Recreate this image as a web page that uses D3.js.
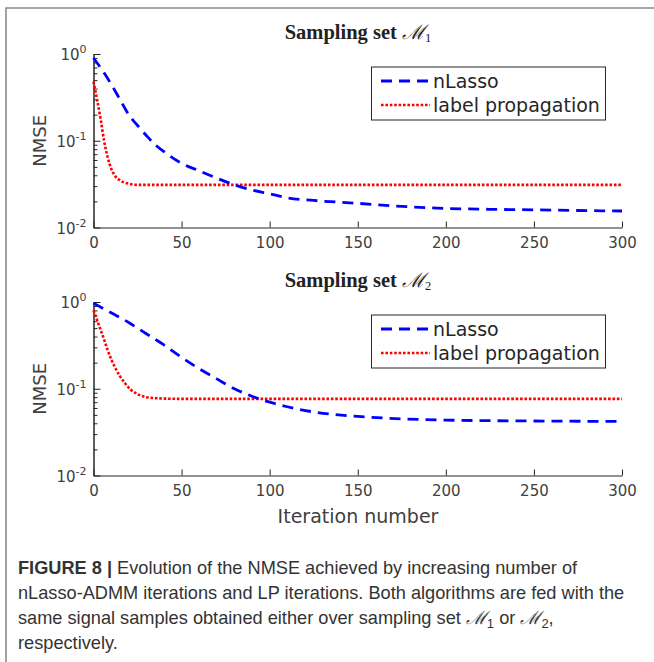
<!DOCTYPE html>
<html><head><meta charset="utf-8">
<script src="https://cdn.jsdelivr.net/npm/d3@7"></script>
<style>
html,body{margin:0;padding:0;background:#fff;}
svg{display:block;}
</style></head>
<body>
<script>
// ---- data ----
const xTicks = [0, 50, 100, 150, 200, 250, 300];
const yMajor = [0.01, 0.1, 1];
const yMajorLabels = ["-2", "-1", "0"];
const seriesNames = ["nLasso", "label propagation"];

const iterTop = [0, 5, 10, 15, 20, 25, 30, 35, 40, 50, 60, 70, 80, 90, 100, 110, 125, 150, 175, 200, 225, 250, 275, 300];
const nlassoTop = [0.9, 0.65, 0.45, 0.3, 0.2, 0.15, 0.115, 0.09, 0.075, 0.055, 0.045, 0.037, 0.031, 0.027, 0.0245, 0.022, 0.0205, 0.019, 0.0175, 0.0166, 0.0162, 0.016, 0.0157, 0.0155];
const iterLpTop = [0, 2, 4, 6, 8, 10, 12, 15, 20, 25, 30, 40, 100, 200, 300];
const lpTop = [0.48, 0.3, 0.18, 0.1, 0.065, 0.048, 0.04, 0.035, 0.032, 0.031, 0.031, 0.031, 0.031, 0.031, 0.031];

const iterBot = [0, 10, 20, 30, 40, 50, 60, 70, 80, 90, 100, 110, 125, 150, 175, 200, 250, 300];
const nlassoBot = [0.97, 0.75, 0.58, 0.43, 0.32, 0.23, 0.17, 0.13, 0.1, 0.082, 0.07, 0.062, 0.054, 0.048, 0.045, 0.0435, 0.0425, 0.042];
const iterLpBot = [0, 2, 4, 6, 8, 10, 12, 15, 18, 21, 24, 27, 30, 35, 40, 50, 100, 200, 300];
const lpBot = [0.8, 0.62, 0.48, 0.37, 0.28, 0.22, 0.18, 0.14, 0.115, 0.098, 0.089, 0.083, 0.08, 0.078, 0.077, 0.0765, 0.0765, 0.0765, 0.0765];

const panels = [
  {title: "1", yTop: 54, yBot: 227.5, nl: [iterTop, nlassoTop], lp: [iterLpTop, lpTop], xlabel: false},
  {title: "2", yTop: 302, yBot: 475.5, nl: [iterBot, nlassoBot], lp: [iterLpBot, lpBot], xlabel: true}
];

const W = 654, H = 662;
const svg = d3.select("body").append("svg").attr("width", W).attr("height", H);

// frame
svg.append("path").attr("d", `M6,${H} L6,8 L${W},8`).attr("fill", "none")
  .attr("stroke", "#8a8a8a").attr("stroke-width", 1.6);

const axisColor = "#262626";
const labelColor = "#404040";
const font = "DejaVu Sans";

const x = d3.scaleLinear().domain([0, 300]).range([93.5, 622]);

panels.forEach((p, pi) => {
  const y = d3.scaleLog().domain([0.01, 1]).range([p.yBot, p.yTop]);
  const g = svg.append("g");

  // minor ticks
  const minors = [];
  [0.01, 0.1].forEach(b => { for (let k = 2; k <= 9; k++) minors.push(b * k); });
  const yAxisMinor = d3.axisLeft(y).tickValues(minors).tickSizeInner(-4).tickSizeOuter(0).tickFormat("");
  const gm = g.append("g").attr("transform", `translate(${x(0)},0)`).call(yAxisMinor);
  const yAxis = d3.axisLeft(y).tickValues(yMajor).tickSizeInner(-7).tickSizeOuter(0).tickFormat("");
  const gy = g.append("g").attr("transform", `translate(${x(0)},0)`).call(yAxis);
  const xAxis = d3.axisBottom(x).tickValues(xTicks).tickSizeInner(-6).tickSizeOuter(0).tickPadding(9);
  const gx = g.append("g").attr("transform", `translate(0,${p.yBot})`).call(xAxis);
  [gm, gy, gx].forEach(a => {
    a.selectAll("path,line").attr("stroke", axisColor).attr("stroke-width", 1);
    a.selectAll("text").attr("fill", labelColor).attr("font-family", font).attr("font-size", 15);
  });
  gx.selectAll("text").attr("dy", "0.75em");

  // y labels
  yMajor.forEach((v, i) => {
    const t = g.append("text").attr("x", x(0) - 7).attr("y", y(v) + 6)
      .attr("text-anchor", "end").attr("fill", labelColor)
      .attr("font-family", font).attr("font-size", 15);
    t.append("tspan").text("10");
    t.append("tspan").attr("dy", -7).attr("font-size", 11).text(yMajorLabels[i]);
  });

  // NMSE label
  g.append("text").attr("transform", `translate(46,${(p.yTop + p.yBot) / 2}) rotate(-90)`)
    .attr("text-anchor", "middle").attr("fill", labelColor)
    .attr("font-family", font).attr("font-size", 18).text("NMSE");

  // title
  const tt = g.append("text").attr("x", 358).attr("y", p.yTop - 15)
    .attr("text-anchor", "middle").attr("fill", "#222")
    .attr("font-family", "Liberation Serif").attr("font-size", 20.5);
  tt.append("tspan").attr("font-weight", "bold").text("Sampling set ");
  tt.append("tspan").attr("font-family", "DejaVu Serif").attr("font-style", "italic").attr("font-size", 20).text("ℳ");
  tt.append("tspan").attr("dy", 3).attr("font-size", 12.5).text(p.title);

  // lines
  const line = d3.line().x(d => x(d[0])).y(d => y(d[1])).curve(d3.curveMonotoneX);
  const nlPts = p.nl[0].map((it, i) => [it, p.nl[1][i]]);
  const lpPts = p.lp[0].map((it, i) => [it, p.lp[1][i]]);
  g.append("path").datum(lpPts).attr("d", line).attr("fill", "none")
    .attr("stroke", "#ff0000").attr("stroke-width", 2.6).attr("stroke-dasharray", "2.6,1.8");
  g.append("path").datum(nlPts).attr("d", line).attr("fill", "none")
    .attr("stroke", "#0000ff").attr("stroke-width", 2.8).attr("stroke-dasharray", "11,7");

  // legend
  const lx = 371.5, ly = p.yTop + 13, lw = 234, lh = 53;
  g.append("rect").attr("x", lx).attr("y", ly).attr("width", lw).attr("height", lh)
    .attr("fill", "#fff").attr("stroke", axisColor).attr("stroke-width", 1);
  const rows = [ly + 14, ly + 38];
  const dashes = ["11,7", "2.6,1.8"];
  const cols = ["#0000ff", "#ff0000"];
  seriesNames.forEach((s, i) => {
    g.append("line").attr("x1", 381).attr("x2", 430).attr("y1", rows[i]).attr("y2", rows[i])
      .attr("stroke", cols[i]).attr("stroke-width", i === 0 ? 2.8 : 2.6).attr("stroke-dasharray", dashes[i]);
    g.append("text").attr("x", 433).attr("y", rows[i] + 7).attr("fill", axisColor)
      .attr("font-family", font).attr("font-size", 19).text(s);
  });

  if (p.xlabel) {
    g.append("text").attr("x", 358).attr("y", p.yBot + 47).attr("text-anchor", "middle")
      .attr("fill", labelColor).attr("font-family", font).attr("font-size", 19).text("Iteration number");
  }
});

// caption
const cap = svg.append("g").attr("font-family", "Liberation Sans").attr("font-size", 18.2).attr("fill", "#333");
const capLines = [
  [["FIGURE 8 | ", true], ["Evolution of the NMSE achieved by increasing number of", false]],
  [["nLasso-ADMM iterations and LP iterations. Both algorithms are fed with the", false]],
  [["same signal samples obtained either over sampling set ", false], ["ℳ", "m"], ["1", "s"], [" or ", false], ["ℳ", "m"], ["2", "s"], [",", false]],
  [["respectively.", false]]
];
capLines.forEach((ln, i) => {
  const t = cap.append("text").attr("x", 18).attr("y", 574 + i * 25);
  let shift = 0;
  ln.forEach(([s, b]) => {
    const ts = t.append("tspan").text(s);
    if (b === true) ts.attr("font-weight", "bold");
    if (b === "m") { ts.attr("font-family", "DejaVu Serif").attr("font-style", "italic"); if (shift) { ts.attr("dy", -shift); shift = 0; } }
    else if (b === "s") { ts.attr("dy", 4).attr("font-size", 13).attr("font-family", "Liberation Sans").attr("font-style", "normal"); shift = 4; }
    else if (shift) { ts.attr("dy", -shift); shift = 0; }
  });
});
</script>
</body></html>
